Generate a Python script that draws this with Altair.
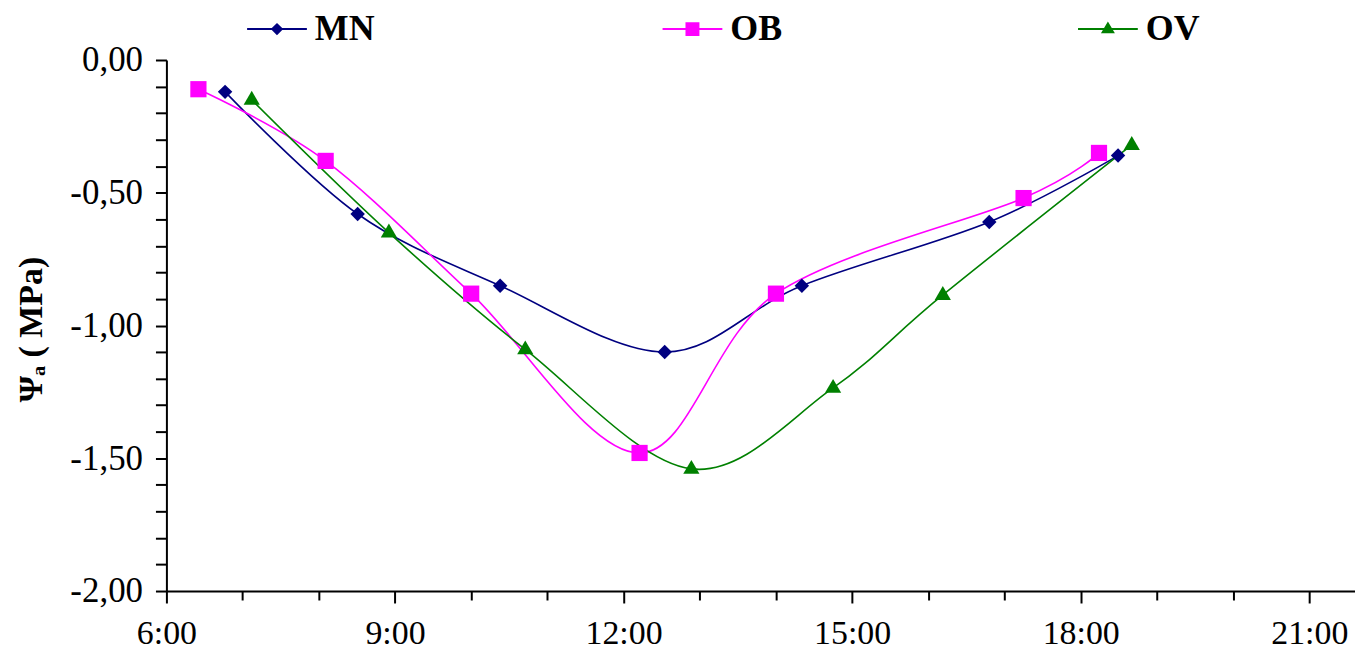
import altair as alt
import pandas as pd

# ---- data ----
series_names = ["MN", "OB", "OV"]
mn_hours = [6.77, 8.51, 10.38, 12.54, 14.34, 16.80, 18.49]
mn_values = [-0.12, -0.58, -0.85, -1.10, -0.85, -0.61, -0.36]
ob_hours = [6.42, 8.09, 10.00, 12.21, 14.00, 17.25, 18.24]
ob_values = [-0.11, -0.38, -0.88, -1.48, -0.88, -0.52, -0.35]
ov_hours = [7.12, 8.92, 10.71, 12.89, 14.75, 16.19, 18.67]
ov_values = [-0.15, -0.65, -1.09, -1.54, -1.235, -0.885, -0.32]

colors = ["#000080", "#FF00FF", "#008000"]
marker_paths = [
    "M-1.25,0L0,-1.25L1.25,0L0,1.25Z",          # diamond
    "M-1.4,-1.4H1.4V1.4H-1.4Z",                  # square
    "M0,-1.55L1.4,0.85L-1.4,0.85Z",              # triangle
]
legend_line = "M-6.0,-0.2H6.0V0.2H-6.0Z "
legend_paths = [legend_line + p for p in marker_paths]

x_ticks = list(range(6, 22))
y_ticks = [round(-i / 10, 1) for i in range(21)]

rows = []
for name, hs, vs in [("MN", mn_hours, mn_values), ("OB", ob_hours, ob_values), ("OV", ov_hours, ov_values)]:
    for h, v in zip(hs, vs):
        rows.append({"series": name, "hour": h, "psi": v})
df = pd.DataFrame(rows)

FONT = "Liberation Serif"

x_enc = alt.X(
    "hour:Q",
    scale=alt.Scale(domain=[6, 21.6], nice=False, zero=False),
    axis=alt.Axis(
        values=x_ticks,
        labelExpr="datum.value % 3 == 0 ? datum.value + ':00' : ''",
        title=None,
        grid=False,
        labelFlush=False,
        labelOverlap=False,
        tickSize={"condition": {"test": "datum.value % 3 == 0", "value": 12}, "value": 9},
        labelFontSize=34,
        labelPadding=14,
    ),
)
y_enc = alt.Y(
    "psi:Q",
    scale=alt.Scale(domain=[-2, 0], nice=False, zero=False),
    axis=alt.Axis(
        values=y_ticks,
        labelExpr="abs(datum.value*2 - round(datum.value*2)) < 0.001 ? replace((datum.value < 0 ? '-' : '') + format(abs(datum.value), '.2f'), '.', ',') : ''",
        title="Ψₐ ( MPa)",
        titleFontSize=34,
        titleFontWeight="bold",
        titleX=-135,
        titleY=270,
        titleAngle=-90,
        titleAlign="center",
        titleBaseline="middle",
        grid=False,
        labelOverlap=False,
        tickSize=11,
        labelFontSize=35,
        labelPadding=13,
    ),
)

lines = alt.Chart(df).mark_line(interpolate="cardinal", strokeWidth=1.6).encode(
    x=x_enc,
    y=y_enc,
    stroke=alt.Stroke("series:N", scale=alt.Scale(domain=series_names, range=colors), legend=None),
    detail="series:N",
)

points = alt.Chart(df).mark_point(filled=True, size=135, opacity=1).encode(
    x=x_enc,
    y=y_enc,
    color=alt.Color("series:N", scale=alt.Scale(domain=series_names, range=colors), legend=None),
    shape=alt.Shape("series:N", scale=alt.Scale(domain=series_names, range=marker_paths), legend=None),
)

legend = alt.Legend(
    title=None,
    orient="none",
    direction="horizontal",
    legendX=93,
    legendY=-49,
    labelFont=FONT,
    labelFontSize=36,
    labelFontWeight="bold",
    labelColor="black",
    labelOffset=20,
    columnPadding=289,
    gridAlign="all",
    padding=0,
    symbolSize=100,
    symbolStrokeWidth=0,
    symbolOpacity=1,
)

legend_layer = alt.Chart(df).mark_point(filled=True, size=100).encode(
    x=x_enc,
    y=y_enc,
    color=alt.Color("series:N", scale=alt.Scale(domain=series_names, range=colors), legend=legend),
    shape=alt.Shape("series:N", scale=alt.Scale(domain=series_names, range=legend_paths), legend=legend),
).transform_filter("false")

chart = (
    alt.layer(lines, points, legend_layer)
    .resolve_scale(shape="independent", color="independent")
    .properties(
        width=1193,
        height=533,
        autosize=alt.AutoSizeParams(type="none"),
        padding={"left": 159, "top": 51, "right": 0, "bottom": 60},
        background="white",
    )
    .configure_view(stroke=None)
    .configure_axis(
        labelFont=FONT,
        titleFont=FONT,
        labelColor="black",
        titleColor="black",
        domainColor="black",
        tickColor="black",
        domainWidth=2,
        tickWidth=2,
    )
)

chart.save("out.html", embed_options={"renderer": "svg", "actions": False})
